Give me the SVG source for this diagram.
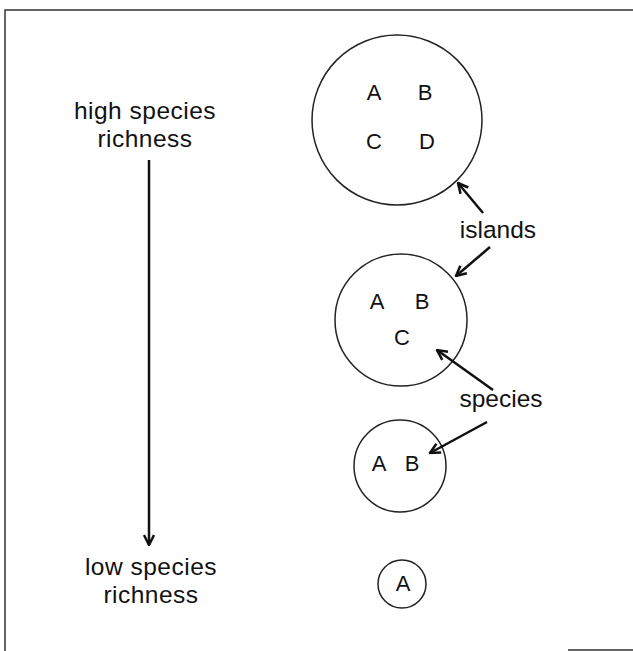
<svg xmlns="http://www.w3.org/2000/svg" width="633" height="651" viewBox="0 0 633 651">
<style>
.t{font-family:"Liberation Sans",Arial,sans-serif;font-size:24.5px;fill:#111;text-anchor:middle}
.s{font-family:"Liberation Sans",Arial,sans-serif;font-size:22px;fill:#111;text-anchor:middle}
.c{fill:none;stroke:#222;stroke-width:1.5}
.a{stroke:#111;stroke-width:2.5;fill:none;marker-end:url(#ah)}
</style>
<defs>
<marker id="ah" viewBox="0 0 10 10" refX="9" refY="5" markerWidth="5" markerHeight="5" orient="auto" markerUnits="strokeWidth">
<path d="M1,1 L9,5 L1,9" fill="none" stroke="#111" stroke-width="2"/>
</marker>
</defs>
<rect width="633" height="651" fill="#fff"/>
<g id="frame" fill="none" stroke="#333" stroke-width="1.5">
<path d="M5,651 V10 H633"/>
<path d="M568,650 H633"/>
</g>
<g id="high-label">
<text class="t" x="145" y="119" letter-spacing="0.5">high species</text>
<text class="t" x="145" y="147" letter-spacing="0.5">richness</text>
</g>
<g id="low-label">
<text class="t" x="151" y="575" letter-spacing="0.5">low species</text>
<text class="t" x="151" y="603" letter-spacing="0.5">richness</text>
</g>
<g id="island1">
<circle class="c" cx="397" cy="120" r="85"/>
<text class="s" x="374" y="100">A</text>
<text class="s" x="425" y="100">B</text>
<text class="s" x="374" y="149">C</text>
<text class="s" x="427" y="149">D</text>
</g>
<g id="island2">
<circle class="c" cx="401" cy="320" r="66"/>
<text class="s" x="377" y="309">A</text>
<text class="s" x="422" y="309">B</text>
<text class="s" x="402" y="345">C</text>
</g>
<g id="island3">
<circle class="c" cx="400" cy="466" r="46"/>
<text class="s" x="379" y="471">A</text>
<text class="s" x="412" y="471">B</text>
</g>
<g id="island4">
<circle class="c" cx="402" cy="584" r="24"/>
<text class="s" x="403" y="591">A</text>
</g>
<g id="islands-label"><text class="t" x="498" y="238">islands</text></g>
<g id="species-label"><text class="t" x="501" y="407">species</text></g>
<g id="connectors">
<line class="a" x1="149" y1="160" x2="149" y2="545"/>
<line class="a" x1="483" y1="213" x2="458" y2="183"/>
<line class="a" x1="490" y1="247" x2="456" y2="276"/>
<line class="a" x1="493" y1="390" x2="437" y2="350"/>
<line class="a" x1="487" y1="422" x2="430" y2="453"/>
</g>
</svg>
